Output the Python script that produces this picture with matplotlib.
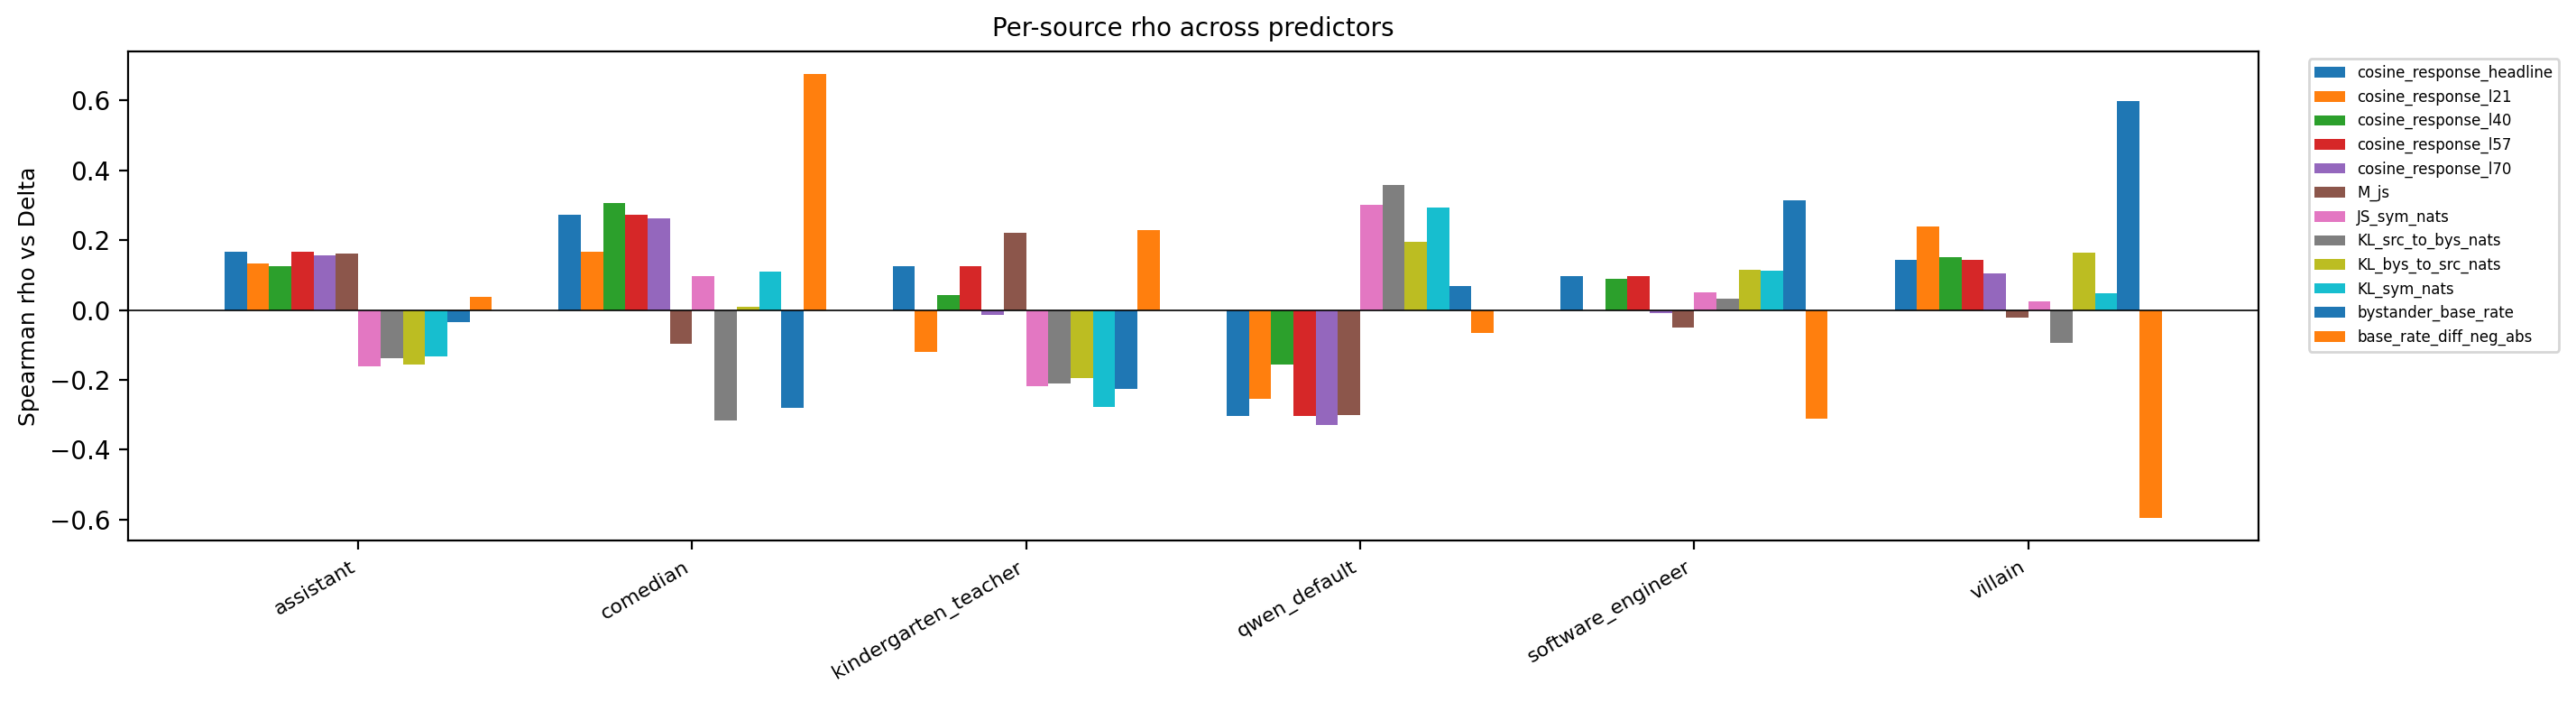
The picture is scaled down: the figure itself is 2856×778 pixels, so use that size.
import numpy as np
import matplotlib
matplotlib.use("Agg")
import matplotlib.pyplot as plt

sources = ["assistant", "comedian", "kindergarten_teacher", "qwen_default",
           "software_engineer", "villain"]

predictors = ["cosine_response_headline", "cosine_response_l21", "cosine_response_l40",
              "cosine_response_l57", "cosine_response_l70", "M_js", "JS_sym_nats",
              "KL_src_to_bys_nats", "KL_bys_to_src_nats", "KL_sym_nats",
              "bystander_base_rate", "base_rate_diff_neg_abs"]

# one list per predictor, values in source order
cosine_response_headline = [0.167, 0.273, 0.125, -0.304, 0.097, 0.144]
cosine_response_l21 = [0.134, 0.167, -0.119, -0.255, 0.0, 0.239]
cosine_response_l40 = [0.125, 0.306, 0.043, -0.155, 0.089, 0.151]
cosine_response_l57 = [0.167, 0.273, 0.125, -0.304, 0.097, 0.144]
cosine_response_l70 = [0.157, 0.263, -0.013, -0.328, -0.010, 0.105]
M_js = [0.161, -0.096, 0.221, -0.300, -0.049, -0.023]
JS_sym_nats = [-0.160, 0.097, -0.219, 0.301, 0.051, 0.025]
KL_src_to_bys_nats = [-0.139, -0.315, -0.209, 0.358, 0.032, -0.094]
KL_bys_to_src_nats = [-0.155, 0.009, -0.196, 0.195, 0.115, 0.164]
KL_sym_nats = [-0.132, 0.110, -0.278, 0.293, 0.112, 0.048]
bystander_base_rate = [-0.036, -0.281, -0.227, 0.069, 0.314, 0.598]
base_rate_diff_neg_abs = [0.038, 0.676, 0.229, -0.067, -0.312, -0.596]

values = [cosine_response_headline, cosine_response_l21, cosine_response_l40,
          cosine_response_l57, cosine_response_l70, M_js, JS_sym_nats,
          KL_src_to_bys_nats, KL_bys_to_src_nats, KL_sym_nats,
          bystander_base_rate, base_rate_diff_neg_abs]

x = np.arange(len(sources))
n = len(predictors)
width = 0.8 / n

fig, ax = plt.subplots(figsize=(14.28, 3.89), dpi=200)
for i, (name, vals) in enumerate(zip(predictors, values)):
    ax.bar(x - 0.4 + width * (i + 0.5), vals, width, label=name)

ax.axhline(0, color="black", linewidth=0.6)
ax.set_xticks(x)
ax.set_xticklabels(sources, rotation=30, ha="right", fontsize=8)
ax.set_ylabel("Spearman rho vs Delta", fontsize=9)
ax.set_title("Per-source rho across predictors", fontsize=10)
ax.legend(bbox_to_anchor=(1.02, 1), loc="upper left", fontsize=6)

fig.subplots_adjust(left=0.0496, right=0.8768, top=0.9267, bottom=0.230)
fig.savefig("out.png", dpi=200)
